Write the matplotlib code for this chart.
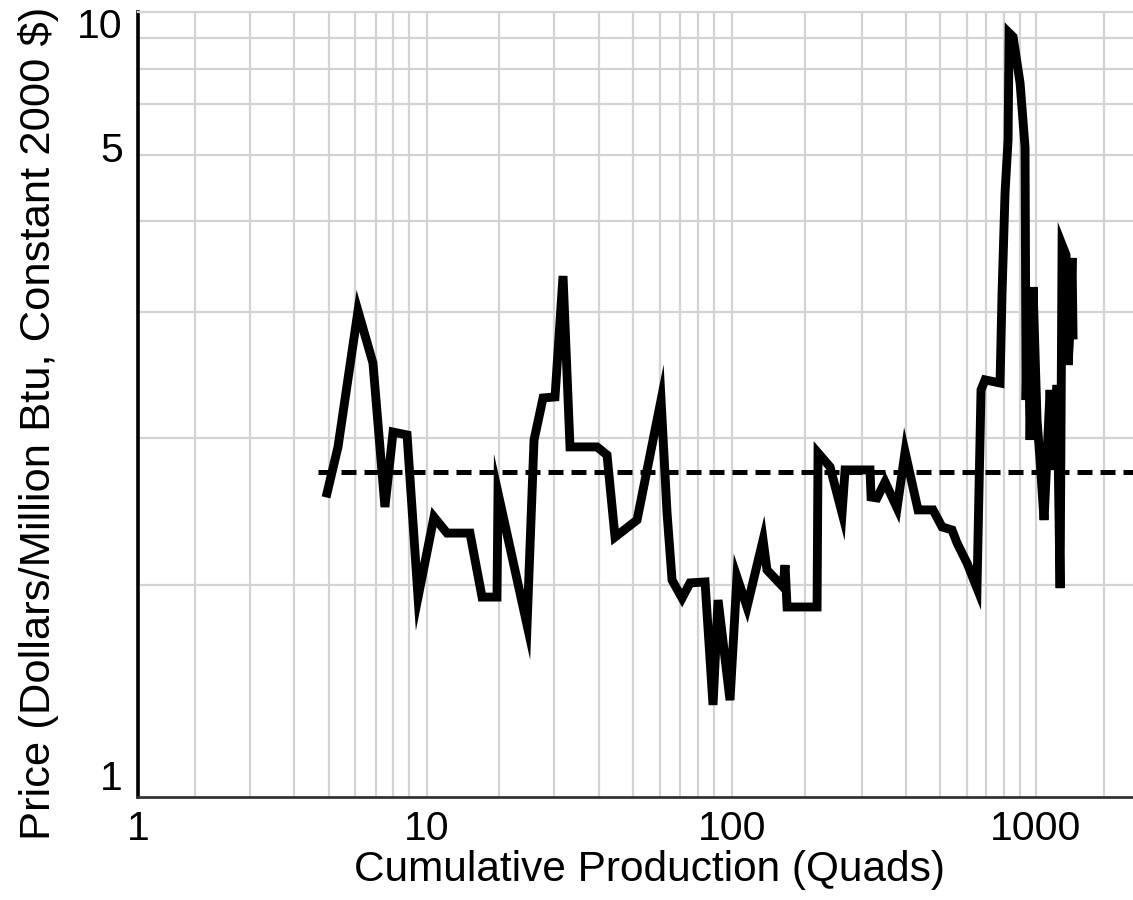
import numpy as np
import matplotlib
matplotlib.use("Agg")
import matplotlib.pyplot as plt

# ---------------- data ----------------
production = [4.51, 4.92, 5.77, 6.50, 7.15, 7.63, 8.53, 9.31, 10.54, 11.63,
              13.83, 15.15, 16.96, 17.09, 21.28, 22.43, 24.01, 26.28, 27.92, 29.43,
              36.09, 38.92, 41.34, 48.82, 58.52, 61.23, 63.58, 68.58, 72.84, 81.55,
              86.63, 89.99, 98.49, 103.8, 112.0, 126.5, 130.3, 147.2, 149.4, 151.7,
              190.4, 191.8, 210.1, 230.1, 235.4, 284.4, 286.6, 299.9, 318.6, 349.0,
              370.8, 409.1, 458.3, 490.7, 529.3, 549.7, 592.9, 639.4, 659.2, 679.5,
              761.3, 773.0, 790.7, 809.0, 815.3, 840.3, 886.0, 920.0, 927.0, 941.2,
              955.6, 977.5, 1007.6, 1030.8, 1062.5, 1112.2, 1137.7, 1172.7, 1199.6, 1217.9,
              1255.0, 1274.3, 1293.6, 1313.4, 1323.4]
price = [2.081, 2.342, 3.318, 2.904, 2.008, 2.433, 2.415, 1.594, 1.957, 1.878,
         1.878, 1.594, 1.594, 2.081, 1.484, 2.384, 2.655, 2.662, 3.629, 2.342,
         2.342, 2.294, 1.859, 1.942, 2.641, 1.977, 1.665, 1.590, 1.653, 1.657,
         1.209, 1.582, 1.224, 1.678, 1.554, 1.845, 1.709, 1.636, 1.730, 1.554,
         1.554, 2.306, 2.225, 1.977, 2.208, 2.208, 2.060, 2.055, 2.141, 2.003,
         2.312, 1.993, 1.993, 1.908, 1.893, 1.831, 1.739, 1.631, 2.710, 2.781,
         2.759, 3.474, 4.490, 5.317, 9.67, 9.46, 7.31, 5.11, 2.641, 3.413,
         2.384, 3.528, 2.509, 2.265, 1.942, 2.710, 2.208, 2.745, 1.631, 3.930,
         3.830, 2.889, 3.160, 3.801, 3.120]

trend_production = [4.2, 2084]
trend_price = [2.196, 2.196]

x_ticks = [1, 10, 100, 1000]
x_tick_labels = ["1", "10", "100", "1000"]
y_ticks = [1, 5, 10]
y_tick_labels = ["1", "5", "10"]

x_grid = [1.575, 2.44, 3.47, 4.58, 5.63, 6.66, 7.63, 8.66, 10,
          17.2, 26.1, 36.6, 47.4, 58.0, 67.5, 77.4, 87.3, 100,
          174, 268, 373, 483, 593, 685, 785, 886, 1000, 1674]
y_grid = [1.644, 2.396, 3.310, 4.178, 4.949, 6.50, 7.91, 9.40]

x_limits = (1, 2084)
y_limits = (0.955, 10.87)

# axis layout of the printed chart (log value -> relative position)
x_anchor_vals = [1, 10, 100, 1000]
x_anchor_pos = [0, 289, 594, 898]
y_anchor_vals = [1, 5, 10]
y_anchor_pos = [0, 628, 752]


def make_scale(anchor_vals, anchor_pos):
    lv = np.log10(np.asarray(anchor_vals, float))
    p = np.asarray(anchor_pos, float)
    s0 = (p[1] - p[0]) / (lv[1] - lv[0])
    s1 = (p[-1] - p[-2]) / (lv[-1] - lv[-2])

    def fwd(v):
        v = np.asarray(v, float)
        l = np.log10(np.clip(v, 1e-12, None))
        out = np.interp(l, lv, p)
        out = np.where(l < lv[0], p[0] + (l - lv[0]) * s0, out)
        out = np.where(l > lv[-1], p[-1] + (l - lv[-1]) * s1, out)
        return out

    def inv(q):
        q = np.asarray(q, float)
        l = np.interp(q, p, lv)
        l = np.where(q < p[0], lv[0] + (q - p[0]) / s0, l)
        l = np.where(q > p[-1], lv[-1] + (q - p[-1]) / s1, l)
        return 10 ** l

    return fwd, inv


plt.rcParams["font.family"] = ["Liberation Sans", "DejaVu Sans"]

W, H = 1133, 900
fig = plt.figure(figsize=(W / 100, H / 100), dpi=100)
ax = fig.add_axes([138 / W, (H - 797) / H, (W - 138) / W, (797 - 12) / H])

ax.set_xscale("function", functions=make_scale(x_anchor_vals, x_anchor_pos))
ax.set_yscale("function", functions=make_scale(y_anchor_vals, y_anchor_pos))
ax.set_xlim(*x_limits)
ax.set_ylim(*y_limits)

grid_color = "#d3d3d3"
for gx in x_grid:
    ax.axvline(gx, color=grid_color, lw=1.6, zorder=1)
for gy in y_grid:
    ax.axhline(gy, color=grid_color, lw=1.6, zorder=1)

ax.plot(trend_production, trend_price, color="black", lw=3.6,
        dashes=(3.0, 1.6), zorder=3)
ax.plot(production, price, color="black", lw=6.4, solid_joinstyle="miter",
        zorder=4)

ax.set_xticks(x_ticks)
ax.set_xticklabels(x_tick_labels)
ax.set_yticks(y_ticks)
ax.set_yticklabels(y_tick_labels)
ax.xaxis.set_minor_locator(matplotlib.ticker.NullLocator())
ax.yaxis.set_minor_locator(matplotlib.ticker.NullLocator())
ax.tick_params(axis="both", length=0, labelsize=29.5, colors="black")
ax.tick_params(axis="x", pad=9)
ax.tick_params(axis="y", pad=11)
for lab in ax.get_yticklabels():
    lab.set_verticalalignment("center")

ax.spines["right"].set_visible(False)
ax.spines["top"].set_color(grid_color)
ax.spines["top"].set_linewidth(1.6)
ax.spines["left"].set_color("black")
ax.spines["left"].set_linewidth(2.6)
ax.spines["bottom"].set_color("#333333")
ax.spines["bottom"].set_linewidth(2.0)

ax.set_xlabel("Cumulative Production (Quads)", fontsize=30.5)
ax.set_ylabel("Price (Dollars/Million Btu, Constant 2000 $)", fontsize=31.3)
ax.xaxis.set_label_coords((650 - 138) / 995, (797 - 850) / 785)
ax.yaxis.set_label_coords((59 - 138) / 995, (797 - 423) / 785)

fig.savefig("out.png", dpi=100)
